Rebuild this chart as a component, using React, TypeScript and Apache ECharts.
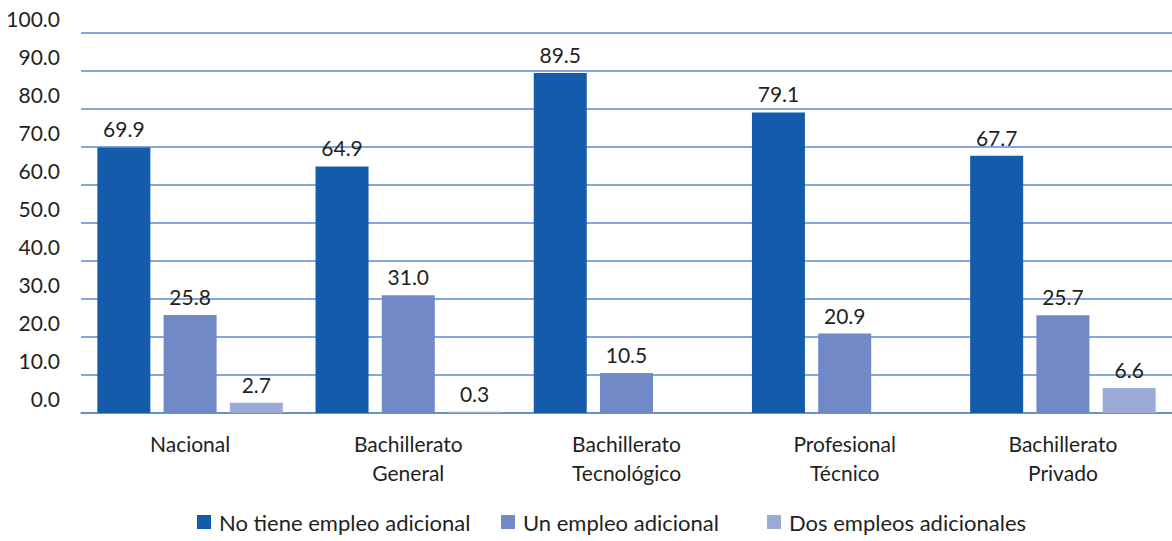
import React, { useEffect, useRef } from "react";
import * as echarts from "echarts";

const categories = [
  "Nacional",
  "Bachillerato\nGeneral",
  "Bachillerato\nTecnológico",
  "Profesional\nTécnico",
  "Bachillerato\nPrivado",
];
const seriesNames = ["No tiene empleo adicional", "Un empleo adicional", "Dos empleos adicionales"];
const noTiene = [69.9, 64.9, 89.5, 79.1, 67.7];
const unEmpleo = [25.8, 31.0, 10.5, 20.9, 25.7];
const dosEmpleos: (number | null)[] = [2.7, 0.3, null, null, 6.6];
const colors = ["#145cab", "#7189c6", "#9caad8"];
const legendLefts = [192, 496, 762];

const FONT = "Lato, 'Open Sans', sans-serif";

export default function App() {
  const ref = useRef<HTMLDivElement>(null);
  useEffect(() => {
    if (!ref.current) return;
    const chart = echarts.init(ref.current, null, { renderer: "svg" });
    const label = {
      show: true,
      position: "top",
      distance: 8,
      color: "#231f20",
      fontSize: 21,
      fontFamily: FONT,
      formatter: (p: any) => (p.value == null ? "" : Number(p.value).toFixed(1)),
    };
    const datas = [noTiene, unEmpleo, dosEmpleos];
    chart.setOption({
      animation: false,
      textStyle: { fontFamily: FONT },
      color: colors,
      legend: seriesNames.map((name, i) => ({
        bottom: 3,
        left: legendLefts[i],
        itemWidth: 14,
        itemHeight: 14,
        icon: "rect",
        textStyle: { fontSize: 22, color: "#231f20", fontFamily: FONT, padding: [0, 0, 0, 3] },
        data: [name],
      })),
      grid: { left: 81, right: -3, top: 33, bottom: 128 },
      xAxis: {
        type: "category",
        data: categories,
        axisTick: { show: false },
        axisLine: { show: true, lineStyle: { color: "#5b8bd0", width: 1.5 } },
        axisLabel: {
          fontSize: 21,
          color: "#231f20",
          lineHeight: 29,
          margin: 16,
          fontFamily: FONT,
        },
      },
      yAxis: {
        type: "value",
        min: 0,
        max: 100,
        interval: 10,
        axisLine: { show: false },
        axisTick: { show: false },
        splitLine: { lineStyle: { color: "#5b8bd0", width: 1.5 } },
        axisLabel: {
          fontSize: 21,
          color: "#231f20",
          margin: 21,
          verticalAlign: "bottom",
          padding: [0, 0, 4, 0],
          fontFamily: FONT,
          formatter: (v: number) => v.toFixed(1),
        },
      },
      series: seriesNames.map((name, i) => ({
        name,
        type: "bar",
        data: datas[i],
        barWidth: 53,
        barGap: "25%",
        label,
      })),
    });
    return () => chart.dispose();
  }, []);
  return (
    <div
      ref={ref}
      style={{ position: "fixed", left: 0, top: 0, width: 1172, height: 541, background: "#fff" }}
    />
  );
}
